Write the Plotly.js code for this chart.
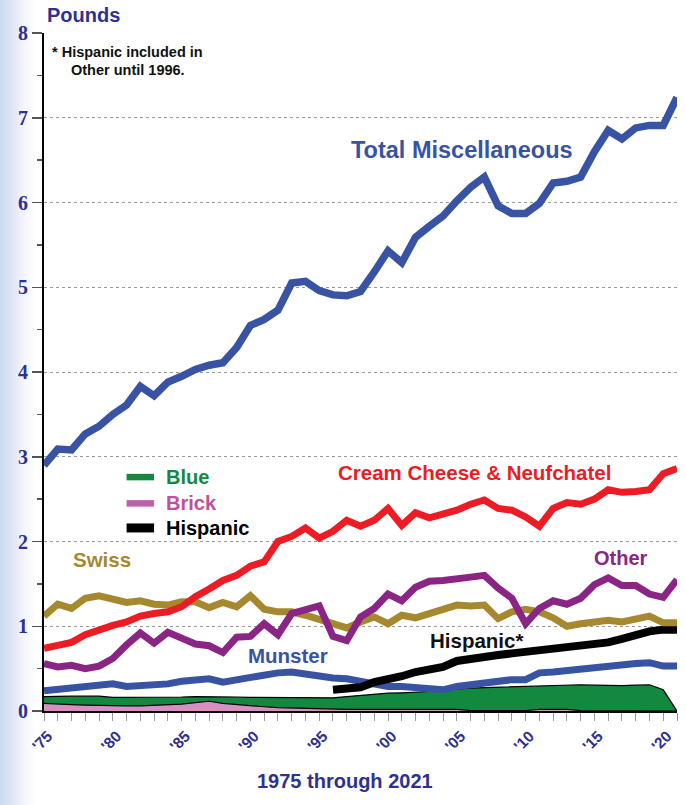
<!DOCTYPE html>
<html>
<head>
<meta charset="utf-8">
<script src="https://cdn.plot.ly/plotly-3.0.1.min.js"></script>
<style>
  html, body { margin: 0; padding: 0; }
  body { width: 686px; height: 805px; background: linear-gradient(to right, #c9dbf1 0px, #e3e6f6 14px, #f7f8fd 26px, #ffffff 36px); }
  #chart { width: 686px; height: 805px; }
</style>
</head>
<body>
<div id="chart"></div>
<script>
// ---- data (pounds per capita) ----
const years = [];
for (let y = 1975; y <= 2021; y++) years.push(y);

const totalMisc = [2.90,3.09,3.08,3.27,3.36,3.50,3.61,3.83,3.72,3.88,
                   3.95,4.03,4.08,4.11,4.29,4.55,4.62,4.73,5.05,5.07,
                   4.96,4.91,4.90,4.95,5.18,5.43,5.29,5.59,5.72,5.84,
                   6.02,6.18,6.30,5.96,5.87,5.87,5.99,6.23,6.25,6.30,
                   6.60,6.85,6.75,6.88,6.91,6.91,7.24];
const creamCheese = [0.74,0.78,0.81,0.90,0.96,1.01,1.05,1.12,1.15,1.17,
                     1.23,1.35,1.44,1.54,1.60,1.71,1.76,2.00,2.06,2.16,
                     2.04,2.12,2.25,2.18,2.25,2.39,2.19,2.34,2.28,2.32,
                     2.37,2.44,2.49,2.39,2.37,2.29,2.18,2.39,2.46,2.44,
                     2.50,2.61,2.58,2.59,2.61,2.80,2.86];
const swiss = [1.12,1.26,1.21,1.33,1.36,1.33,1.28,1.30,1.26,1.25,
               1.29,1.29,1.22,1.28,1.23,1.36,1.20,1.17,1.17,1.13,
               1.08,1.05,0.98,1.05,1.11,1.03,1.13,1.10,1.15,1.22,
               1.25,1.24,1.25,1.09,1.17,1.20,1.17,1.10,1.00,1.03,
               1.05,1.07,1.05,1.08,1.12,1.04,1.04];
const other = [0.56,0.52,0.54,0.50,0.53,0.62,0.78,0.92,0.80,0.93,
               0.86,0.79,0.77,0.69,0.87,0.88,1.03,0.90,1.15,1.19,
               1.24,0.88,0.83,1.11,1.21,1.38,1.30,1.46,1.53,1.54,
               1.57,1.58,1.60,1.45,1.33,1.03,1.21,1.30,1.26,1.33,
               1.49,1.57,1.48,1.48,1.38,1.34,1.55];
const munster = [0.24,0.26,0.27,0.29,0.31,0.32,0.29,0.30,0.30,0.32,
                 0.35,0.37,0.38,0.34,0.37,0.40,0.42,0.45,0.46,0.43,
                 0.40,0.39,0.38,0.35,0.31,0.29,0.29,0.27,0.26,0.25,
                 0.29,0.31,0.35,0.37,0.37,0.37,0.45,0.46,0.48,0.48,
                 0.52,0.54,0.54,0.56,0.57,0.53,0.53];
const hispanic = [null,null,null,null,null,null,null,null,null,null,
                  null,null,null,null,null,null,null,null,null,null,
                  null,0.25,0.26,0.28,0.34,0.37,0.41,0.46,0.49,0.52,
                  0.59,0.62,0.64,0.66,0.68,0.70,0.71,0.72,0.74,0.76,
                  0.78,0.81,0.85,0.90,0.94,0.96,0.96];
const brick = [0.09,0.08,0.075,0.07,0.065,0.06,0.06,0.06,0.065,0.07,
               0.08,0.10,0.115,0.09,0.075,0.06,0.05,0.04,0.035,0.03,
               0.03,0.025,0.02,0.02,0.02,0.02,0.02,0.02,0.02,0.02,
               0.02,0.005,0.005,0.005,0.005,0.005,0.02,0.02,0.02,0.005,
               0.005,0.005,0.005,0.005,0.005,0.005,0.0];
const blue = [0.08,0.095,0.10,0.105,0.11,0.10,0.10,0.10,0.095,0.09,
              0.085,0.07,0.055,0.08,0.09,0.10,0.11,0.12,0.125,0.125,
              0.125,0.13,0.15,0.165,0.18,0.19,0.195,0.20,0.21,0.225,
              0.24,0.265,0.27,0.275,0.28,0.285,0.275,0.28,0.29,0.305,
              0.30,0.295,0.295,0.30,0.305,0.245,0.0];

const tickYears = [1975,1980,1985,1990,1995,2000,2005,2010,2015,2020];
const tickLabels = ["'75","'80","'85","'90","'95","'00","'05","'10","'15","'20"];

// ---- colours ----
const C = {
  total: '#3953a4', cream: '#ed1c24', swiss: '#a6892f', other: '#8b2585',
  munster: '#3953a4', hispanic: '#000000', green: '#12893f', pink: '#d68fc0',
  brickText: '#c050a0', navy: '#2e3192'
};

const tickText = years.map(y => { const i = tickYears.indexOf(y); return i >= 0 ? tickLabels[i] : ''; });

function line(yv, color, width) {
  return { x: years, y: yv, type: 'scatter', mode: 'lines', showlegend: false,
           line: { color: color, width: width, shape: 'linear' }, hoverinfo: 'skip', connectgaps: false };
}

const traces = [
  { x: years, y: brick, type: 'scatter', mode: 'lines', stackgroup: 'cheese', showlegend: false,
    fillcolor: C.pink, line: { color: '#000', width: 1.2 }, hoverinfo: 'skip' },
  { x: years, y: blue, type: 'scatter', mode: 'lines', stackgroup: 'cheese', showlegend: false,
    fillcolor: C.green, line: { color: '#000', width: 1.2 }, hoverinfo: 'skip' },
  line(munster, C.munster, 7),
  line(hispanic, C.hispanic, 8),
  line(swiss, C.swiss, 7),
  line(other, C.other, 7),
  line(creamCheese, C.cream, 7),
  line(totalMisc, C.total, 7.5)
];

const bold = (size, color) => ({ family: 'Liberation Sans, Arial, sans-serif', size: size, color: color, weight: 700 });

function label(text, x, y, size, color, anchor) {
  return { text: text, x: x, y: y, xref: 'x', yref: 'y', showarrow: false,
           xanchor: anchor || 'center', yanchor: 'middle', font: bold(size, color) };
}

const annotations = [
  { text: 'Pounds', xref: 'paper', yref: 'paper', x: 0.002, y: 1.027, xanchor: 'left', yanchor: 'middle',
    showarrow: false, font: bold(20, C.navy) },
  { text: '1975 through 2021', xref: 'paper', yref: 'paper', x: 0.476, y: -0.103, xanchor: 'center', yanchor: 'middle',
    showarrow: false, font: bold(20, C.navy) },
  label('* Hispanic included in', 1975.45, 7.78, 14.5, '#111', 'left'),
  label('Other until 1996.', 1976.8, 7.56, 14.5, '#111', 'left'),
  label('Total Miscellaneous', 2005.4, 6.62, 23.5, C.total),
  label('Cream Cheese &amp; Neufchatel', 2006.25, 2.82, 20.5, C.cream),
  label('Other', 2016.9, 1.81, 20, C.other),
  label('Swiss', 1979.2, 1.79, 20.5, C.swiss),
  label('Munster', 1992.7, 0.66, 20.5, C.munster),
  label('Hispanic*', 2006.4, 0.83, 20.5, '#111'),
  label('Blue', 1983.7, 2.76, 20, C.green, 'left'),
  label('Brick', 1983.7, 2.45, 20, C.brickText, 'left'),
  label('Hispanic', 1983.7, 2.16, 20, '#000', 'left')
];

const shapes = [
  { type: 'line', xref: 'x', yref: 'y', x0: 1981.0, x1: 1983.0, y0: 2.76, y1: 2.76,
    line: { color: C.green, width: 6.5 } },
  { type: 'line', xref: 'x', yref: 'y', x0: 1981.0, x1: 1983.0, y0: 2.45, y1: 2.45,
    line: { color: '#c060a8', width: 6.5 } },
  { type: 'line', xref: 'x', yref: 'y', x0: 1981.0, x1: 1983.0, y0: 2.16, y1: 2.16,
    line: { color: '#000', width: 9 } }
];

const layout = {
  width: 686, height: 805,
  margin: { l: 44, r: 9, t: 33, b: 94, pad: 0 },
  paper_bgcolor: 'rgba(0,0,0,0)',
  plot_bgcolor: '#ffffff',
  showlegend: false,
  hovermode: false,
  xaxis: {
    range: [1975, 2021], tickmode: 'array', tickvals: years, ticktext: tickText,
    ticks: 'outside', ticklen: 8, tickwidth: 1, tickcolor: '#999',
    tickangle: -45, tickfont: bold(15.5, C.navy), ticklabelshift: 4,
    showline: true, linecolor: '#000', linewidth: 2, showgrid: false, zeroline: false, fixedrange: true
  },
  yaxis: {
    range: [0, 8], tickmode: 'linear', tick0: 0, dtick: 1,
    ticks: 'outside', ticklen: 10, tickwidth: 1.5, tickcolor: '#555',
    tickfont: { family: 'Liberation Serif, Times New Roman, serif', size: 20, color: C.navy, weight: 700 },
    showline: true, linecolor: '#000', linewidth: 2, zeroline: false,
    showgrid: true, gridcolor: '#999', gridwidth: 1, griddash: 'dot',
    minor: { dtick: 0.5, tick0: 0, ticks: 'outside', ticklen: 5, tickwidth: 1.5, tickcolor: '#555', showgrid: false },
    fixedrange: true
  },
  annotations: annotations,
  shapes: shapes
};

Plotly.newPlot('chart', traces, layout, { displayModeBar: false, staticPlot: true });
</script>
</body>
</html>
